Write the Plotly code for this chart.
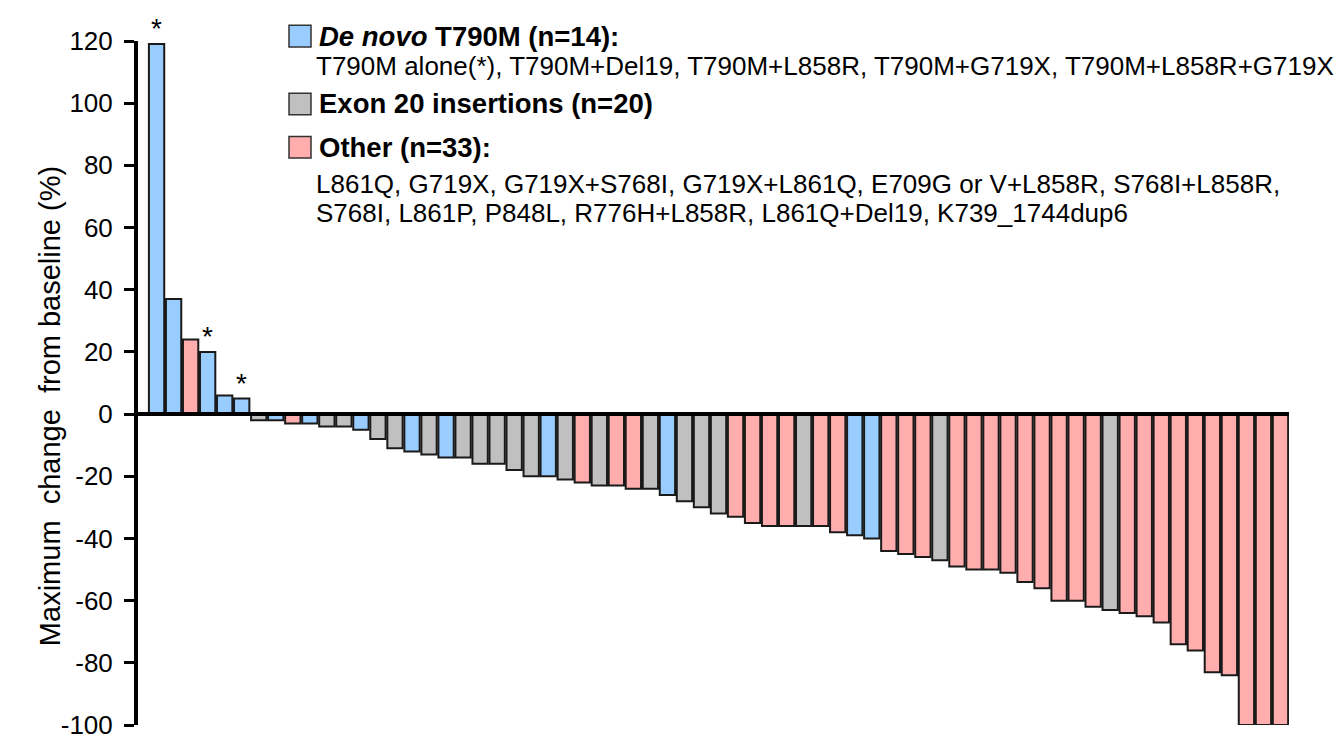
import plotly.graph_objects as go

# ---- data ----
values = [119, 37, 24, 20, 6, 5, -2, -2, -3, -3, -4, -4, -5, -8, -11, -12, -13, -14, -14, -16,
          -16, -18, -20, -20, -21, -22, -23, -23, -24, -24, -26, -28, -30, -32, -33, -35, -36, -36,
          -36, -36, -38, -39, -40, -44, -45, -46, -47, -49, -50, -50, -51, -54, -56, -60, -60, -62,
          -63, -64, -65, -67, -74, -76, -83, -84, -100, -100, -100]
groups = ["T", "T", "O", "T", "T", "T", "E", "T", "O", "T", "E", "E", "T", "E", "E", "T", "E", "T", "E", "E",
          "E", "E", "E", "T", "E", "O", "E", "O", "O", "E", "T", "E", "E", "E", "O", "O", "O", "O",
          "E", "O", "O", "T", "T", "O", "O", "O", "E", "O", "O", "O", "O", "O", "O", "O", "O", "O",
          "E", "O", "O", "O", "O", "O", "O", "O", "O", "O", "O"]
alone_idx = [0, 3, 5]  # T790M alone (*)
yticks = [-100, -80, -60, -40, -20, 0, 20, 40, 60, 80, 100, 120]

colors = {"T": "#99CCFF", "E": "#C0C0C0", "O": "#FFADAD"}
W, H = 1344, 744
ML, MR, MT, MB = 130, 63, 33, 16
PW, PH = W - ML - MR, H - MT - MB

def px(x):
    return (x - ML) / PW

def py(y):
    return (H - MB - y) / PH

xs = list(range(len(values)))
fig = go.Figure()
fig.add_trace(go.Bar(
    x=xs, y=values,
    marker=dict(color=[colors[g] for g in groups], line=dict(color="#1a1a1a", width=2)),
    width=0.9, showlegend=False, hoverinfo="y"))

font = "Liberation Sans, Arial, sans-serif"
ann = []
for i in alone_idx:
    ann.append(dict(x=xs[i], y=values[i], xref="x", yref="y", text="*", showarrow=False,
                    yanchor="bottom", yshift=-2, font=dict(size=28, color="black", family=font)))

legend_items = [
    ("#99CCFF", 28, "<b><i>De novo</i> T790M (n=14):</b>"),
    ("#C0C0C0", 97, "<b>Exon 20 insertions (n=20)</b>"),
    ("#FFADAD", 141, "<b>Other (n=33):</b>"),
]
shapes = []
for col, yc, txt in legend_items:
    shapes.append(dict(type="rect", xref="paper", yref="paper", x0=px(281), x1=px(303),
                       y0=py(yc + 11), y1=py(yc - 11), fillcolor=col,
                       line=dict(color="#333333", width=1.5)))
    ann.append(dict(x=px(309), y=py(yc), xref="paper", yref="paper", text=txt, showarrow=False,
                    xanchor="left", yanchor="middle", font=dict(size=27.5, color="black", family=font)))

detail_lines = [
    (58, "T790M alone(*), T790M+Del19, T790M+L858R, T790M+G719X, T790M+L858R+G719X"),
    (178, "L861Q, G719X, G719X+S768I, G719X+L861Q, E709G or V+L858R, S768I+L858R,"),
    (208, "S768I, L861P, P848L, R776H+L858R, L861Q+Del19, K739_1744dup6"),
]
for yc, txt in detail_lines:
    ann.append(dict(x=px(306), y=py(yc), xref="paper", yref="paper", text=txt, showarrow=False,
                    xanchor="left", yanchor="middle", font=dict(size=26, color="black", family=font)))

# y-axis title
ann.append(dict(x=px(42), y=py(404), xref="paper", yref="paper",
                text="Maximum  change  from baseline (%)", textangle=-90, showarrow=False,
                xanchor="center", yanchor="middle", font=dict(size=29, color="black", family=font)))

shapes.append(dict(type="line", xref="paper", yref="y", x0=0, x1=1, y0=0, y1=0,
                   line=dict(color="black", width=4), layer="above"))

fig.update_layout(
    width=W, height=H,
    margin=dict(l=ML, r=MR, t=MT, b=MB),
    paper_bgcolor="white", plot_bgcolor="white",
    font=dict(family=font, color="black"),
    bargap=0.1,
    xaxis=dict(range=[-1.09, 66.5], showticklabels=False, showgrid=False, zeroline=False,
               showline=False, ticks=""),
    yaxis=dict(range=[-100, 120], tickvals=yticks, ticktext=[str(v) for v in yticks],
               showgrid=False, zeroline=False, showline=True, linewidth=4, linecolor="black",
               ticks="outside", ticklen=10, tickwidth=3, tickcolor="black",
               tickfont=dict(size=26, family=font), ticklabelstandoff=6),
    annotations=ann, shapes=shapes,
)
fig.write_html("out.html")
